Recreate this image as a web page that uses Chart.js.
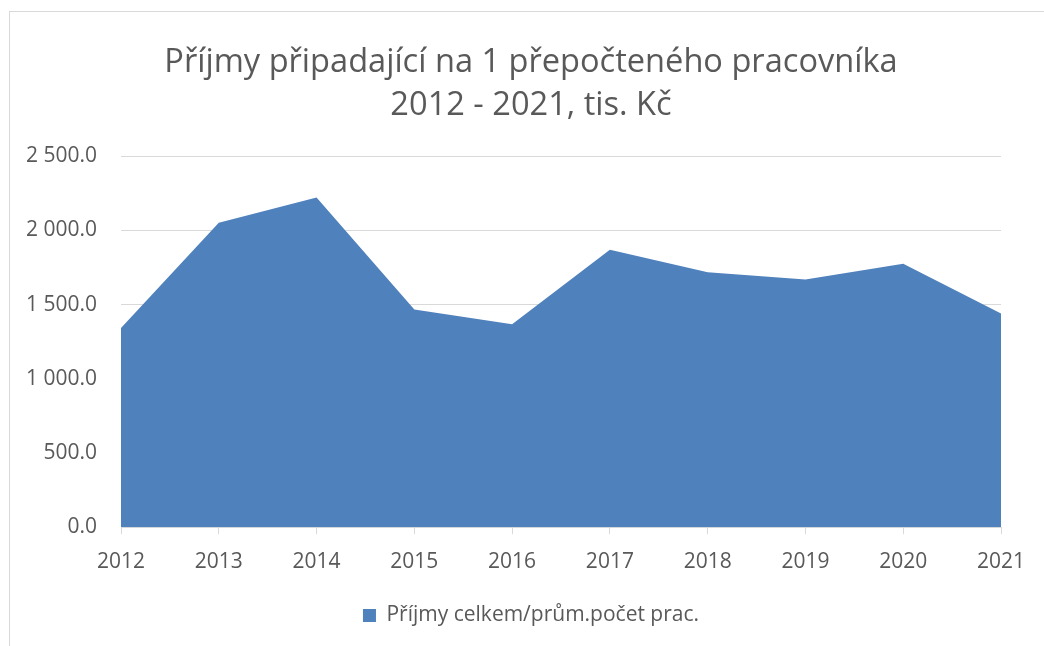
<!DOCTYPE html>
<html>
<head>
<meta charset="utf-8">
<script src="https://cdn.jsdelivr.net/npm/chart.js@4"></script>
<style>
body { margin: 0; background: #fff; }
#obal { position: relative; width: 1044px; height: 646px; overflow: hidden; }
#ramecek { position: absolute; left: 9px; top: 11px; right: -2px; bottom: -2px; border-left: 1px solid #d9d9d9; border-top: 1px solid #d9d9d9; }
canvas { position: absolute; left: 0; top: 0; }
</style>
</head>
<body>
<div id="obal">
  <div id="ramecek"></div>
  <canvas id="graf_prijmy" width="1044" height="646"></canvas>
</div>
<script>
// data
const roky = ['2012', '2013', '2014', '2015', '2016', '2017', '2018', '2019', '2020', '2021'];
const prijmy = [1342, 2051, 2221, 1466, 1367, 1869, 1717, 1668, 1775, 1439];
const nazevGrafu = ['Příjmy připadající na 1 přepočteného pracovníka', '2012 - 2021, tis. Kč'];
const nazevRady = 'Příjmy celkem/prům.počet prac.';
const osaYMax = 2500;
const osaYKrok = 500;

const pismo = '"Open Sans", "Noto Sans", sans-serif';
const seda = '#595959';
const mrizka = '#d9d9d9';

// 2500 -> "2 500.0"
function formatCislo(v) {
    const casti = Number(v).toFixed(1).split('.');
    return casti[0].replace(/\B(?=(\d{3})+(?!\d))/g, ' ') + '.' + casti[1];
}

// nadpis a legenda jsou v Excelu vycentrované na celý rámeček, ne jen na plochu vpravo od osy
const posunNadpisu = {
    id: 'posunNadpisu',
    afterLayout: function(chart) {
        chart.titleBlock.left += 61;
        chart.legend.left += 61;
    }
};

const ctx = document.getElementById('graf_prijmy').getContext('2d');

const myChart = new Chart(ctx, {
    type: 'line',
    data: {
        labels: roky,
        datasets: [{
            label: nazevRady,
            data: prijmy,
            fill: 'origin',
            backgroundColor: '#4f81bd',
            borderColor: '#4f81bd',
            borderWidth: 0,
            pointRadius: 0,
            tension: 0
        }]
    },
    options: {
        responsive: false,
        animation: false,
        layout: {
            padding: { left: 0, right: 43, top: 22.5, bottom: 10 }
        },
        plugins: {
            title: {
                display: true,
                text: nazevGrafu,
                color: seda,
                font: { family: pismo, size: 32.6, weight: 'normal', lineHeight: 1.32 },
                padding: { top: 18.5, bottom: 29 }
            },
            legend: {
                position: 'bottom',
                labels: {
                    color: seda,
                    font: { family: pismo, size: 21 },
                    boxWidth: 13,
                    boxHeight: 13,
                    padding: 12
                }
            },
            tooltip: { enabled: false }
        },
        scales: {
            x: {
                offset: false,
                grid: {
                    drawOnChartArea: false,
                    drawTicks: true,
                    tickLength: 7,
                    color: mrizka
                },
                border: { display: true, color: mrizka, width: 1 },
                ticks: {
                    color: seda,
                    font: { family: pismo, size: 21 },
                    padding: 15,
                    maxRotation: 0,
                    autoSkip: false
                },
                afterFit: function(scale) { scale.height += 3.6; }
            },
            y: {
                min: 0,
                max: osaYMax,
                grid: { color: mrizka, drawTicks: false },
                border: { display: false },
                ticks: {
                    stepSize: osaYKrok,
                    color: seda,
                    font: { family: pismo, size: 21 },
                    padding: 24,
                    callback: function(v) { return formatCislo(v); }
                },
                afterFit: function(scale) { scale.width = 121; }
            }
        }
    },
    plugins: [posunNadpisu]
});
</script>
</body>
</html>
